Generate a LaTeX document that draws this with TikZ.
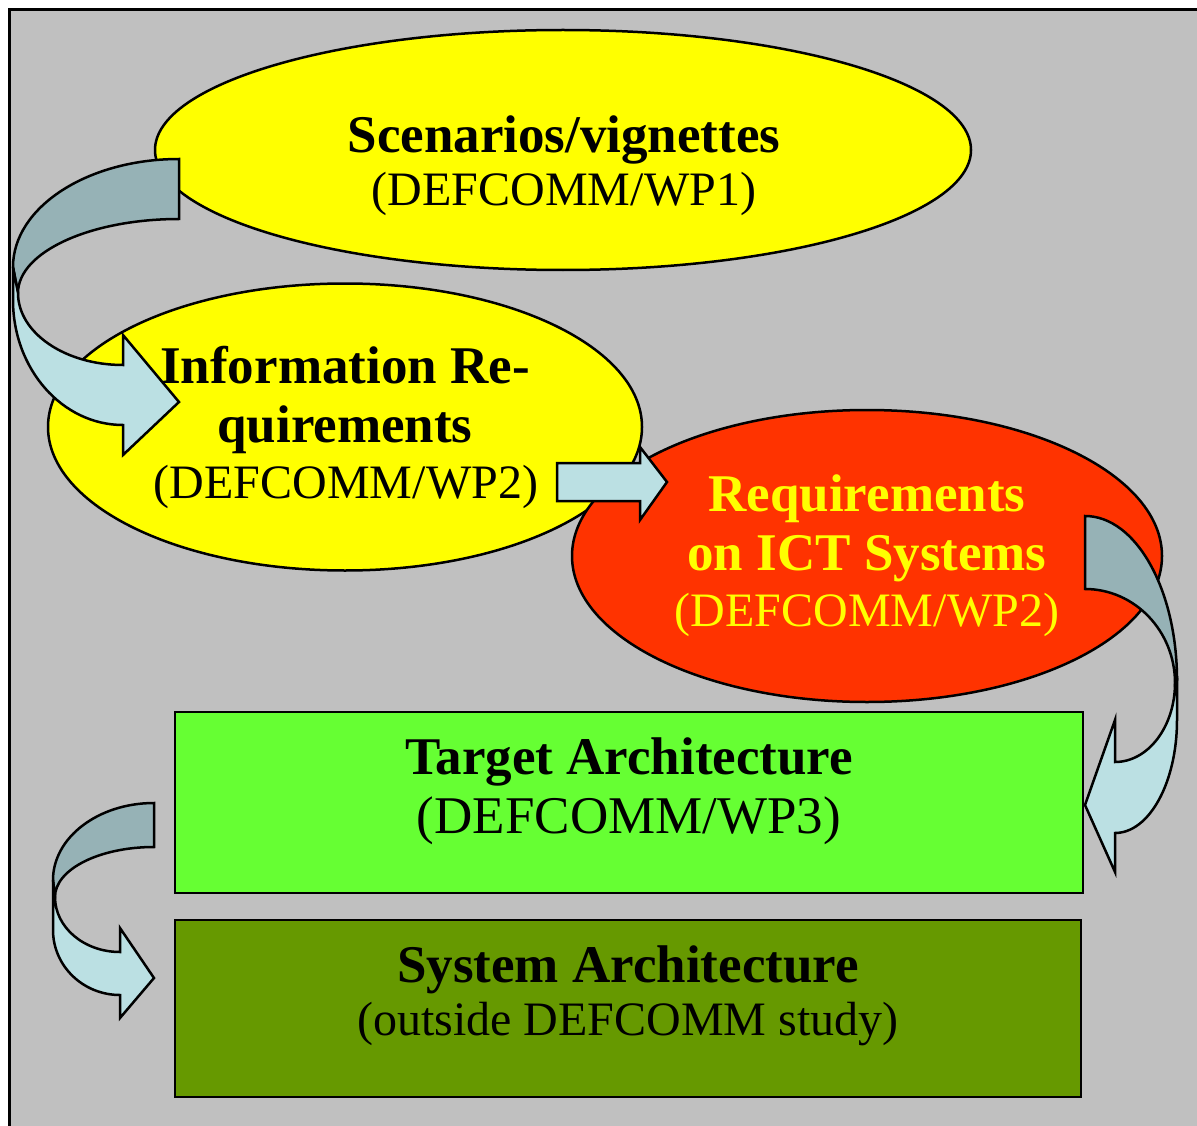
\documentclass[tikz,border=0pt]{standalone}
\usepackage{fontspec}
\setmainfont{Liberation Serif}
\usetikzlibrary{shapes.geometric}

\definecolor{panelgray}{HTML}{C0C0C0}
\definecolor{ylw}{HTML}{FFFF00}
\definecolor{redorange}{HTML}{FF3300}
\definecolor{lightgreen}{HTML}{66FF33}
\definecolor{olivegreen}{HTML}{669900}
\definecolor{arrowfront}{HTML}{BBE0E3}
\definecolor{arrowback}{HTML}{96B2B6}

\tikzset{
  boldline/.style={font=\fontsize{53}{60}\selectfont\bfseries, anchor=base, inner sep=0pt},
  subline/.style={font=\fontsize{48}{56}\selectfont, anchor=base, inner sep=0pt},
  subbig/.style={font=\fontsize{53}{60}\selectfont, anchor=base, inner sep=0pt},
  blob/.style={ellipse, draw=black, line width=2.5pt, inner sep=0pt},
  panel/.style={rectangle, draw=black, line width=2.5pt, inner sep=0pt},
  ribbonfront/.style={fill=arrowfront, draw=black, line width=2.5pt, line join=miter},
  ribbonback/.style={fill=arrowback, draw=black, line width=2.5pt, line join=miter},
}

\begin{document}
\begin{tikzpicture}[x=1pt, y=-1pt]
\useasboundingbox (0,0) rectangle (1197,1126);

% grey panel with its left and top frame line
\fill[panelgray] (9,10) rectangle (1197,1126);
\draw[line width=3pt] (9,1126) -- (9,10) -- (1197,10);

% stages as ellipses
\node[blob, fill=ylw, minimum width=816pt, minimum height=240pt] (scen) at (563,150) {};
\node[blob, fill=ylw, minimum width=594pt, minimum height=287pt] (info) at (345,427) {};
\node[blob, fill=redorange, minimum width=590pt, minimum height=292pt] (ict) at (867,556) {};

% architecture boxes
\node[panel, fill=lightgreen, minimum width=908pt, minimum height=181pt] (target) at (629,802.5) {};
\node[panel, fill=olivegreen, minimum width=906pt, minimum height=177pt] (system) at (628,1008.5) {};

% labels
\node[boldline] (scenA) at (564,153) {Scenarios/vignettes};
\node[subline] (scenB) at (564,206) {(DEFCOMM/WP1)};

\node[boldline] (infoA) at (345,383) {Information Re-};
\node[boldline] (infoB) at (345,442) {quirements};
\node[subline] (infoC) at (346,498) {(DEFCOMM/WP2)};

\node[boldline, text=ylw] (ictA) at (867,511) {Requirements};
\node[boldline, text=ylw] (ictB) at (867,570) {on ICT Systems};
\node[subline, text=ylw] (ictC) at (867,626) {(DEFCOMM/WP2)};

\node[boldline] (targetA) at (629,774) {Target Architecture};
\node[subbig] (targetB) at (629,833) {(DEFCOMM/WP3)};

\node[boldline] (systemA) at (628,982) {System Architecture};
\node[subline] (systemB) at (628,1035) {(outside DEFCOMM study)};

% straight block arrow between information and ICT requirements
\coordinate (sa0) at (557,463);
\draw[ribbonfront] (sa0) -- (640,463) -- (640,447) -- (667,482) -- (640,520)
  -- (640,501) -- (557,501) -- cycle;

% curled arrow: scenarios -> information requirements
\coordinate (tl0) at (179,159);
\draw[ribbonback] (tl0) .. controls (87.3,159) and (13,207.4) .. (13,267)
  -- (18,293) .. controls (18,252.1) and (90.1,219) .. (179,219) -- cycle;
\draw[ribbonfront] (13,267) -- (13,300) .. controls (13,369) and (62.2,425) .. (123,425)
  -- (123,455) -- (179,402) -- (123,335) -- (123,365)
  .. controls (65,365) and (18,332.8) .. (18,293) -- cycle;

% curled arrow: ICT requirements -> target architecture
\coordinate (r0) at (1085,516);
\draw[ribbonback] (r0) .. controls (1135.8,516) and (1177,589.4) .. (1177,680)
  -- (1175,683) .. controls (1175,631.1) and (1134.7,589) .. (1085,589) -- cycle;
\draw[ribbonfront] (1177,680) -- (1177,720) .. controls (1177,782.4) and (1149.2,833) .. (1115,833)
  -- (1115,872) -- (1085,805) -- (1115,720) -- (1115,762)
  .. controls (1148.1,762) and (1175,726.6) .. (1175,683) -- cycle;

% curled arrow: target architecture -> system architecture
\coordinate (bl0) at (154,803);
\draw[ribbonback] (bl0) .. controls (98.2,803) and (53,837.5) .. (53,880)
  -- (55,897) .. controls (55,869.4) and (99.3,847) .. (154,847) -- cycle;
\draw[ribbonfront] (53,880) -- (53,930) .. controls (53,965.9) and (83,995) .. (120,995)
  -- (120,1018) -- (154,978) -- (120,928) -- (120,952)
  .. controls (84.1,952) and (55,927.4) .. (55,897) -- cycle;
\end{tikzpicture}
\end{document}
